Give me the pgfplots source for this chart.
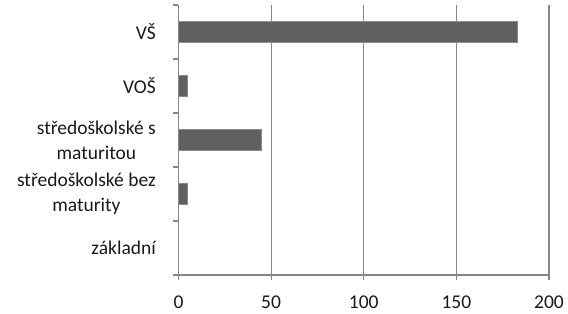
\documentclass[border=0pt]{standalone}
\usepackage{fontspec}
\setmainfont{Carlito}
\usepackage{pgfplots}
\pgfplotsset{compat=1.18}
\definecolor{barfill}{HTML}{606060}
\definecolor{bardraw}{HTML}{8A8A8A}
\definecolor{gridc}{HTML}{868686}
\begin{document}
\fontsize{19.5bp}{25bp}\selectfont
\begin{tikzpicture}
\useasboundingbox (-178.5bp,-39bp) rectangle (389.5bp,275bp);
\begin{axis}[
  at={(0,0)}, anchor=south west,
  scale only axis, width=370.5bp, height=270bp,
  xmin=0, xmax=200, ymin=-0.5, ymax=4.5,
  xbar, bar width=21bp,
  axis lines*=left,
  axis line style={gridc, line width=1.1bp},
  xtick={0,50,...,200},
  xmajorgrids, major grid style={gridc, line width=1.1bp},
  tick align=outside, major tick length=5bp,
  xtick style={gridc, line width=1.1bp},
  ytick={0,1,2,3,4},
  yticklabels={základní, {středoškolské bez\\maturity}, {středoškolské s\\maturitou}, VOŠ, VŠ},
  ytick style={draw=none},
  extra y ticks={-0.5,0.5,1.5,2.5,3.5,4.5},
  extra y tick labels={},
  extra y tick style={ytick style={draw=gridc, line width=1.1bp}, grid=none},
  yticklabel style={align=center, font=\fontsize{19.5bp}{25bp}\selectfont, xshift=-11bp, text=black!90},
  xticklabel style={font=\fontsize{19.5bp}{25bp}\selectfont, yshift=-9bp, text=black!90},
  /pgf/number format/assume math mode=true,
  clip=false,
]
\addplot[fill=barfill, draw=bardraw, line width=0.8bp] coordinates {(0,0) (5,1) (45,2) (5,3) (183,4)};
\end{axis}
\end{tikzpicture}
\end{document}
